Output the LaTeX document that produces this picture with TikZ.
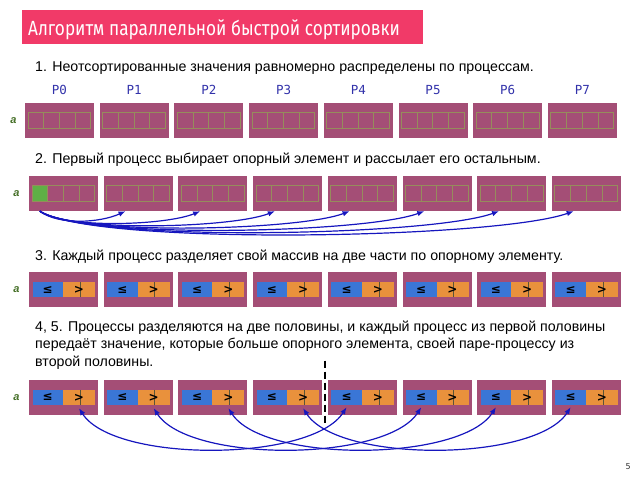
\documentclass[tikz,border=0pt]{standalone}
\usepackage{fontspec}
\setmainfont{Liberation Sans}
\newfontfamily\titlefont{Fira Sans}
\newfontfamily\monofont{DejaVu Sans Mono}
\newfontfamily\symfont{DejaVu Sans}
\usetikzlibrary{positioning,arrows.meta,calc}
\definecolor{titlered}{RGB}{241,58,104}
\definecolor{procfill}{RGB}{164,78,118}
\definecolor{cellline}{RGB}{150,140,92}
\definecolor{seedgreen}{RGB}{95,175,70}
\definecolor{lefill}{RGB}{58,118,214}
\definecolor{gtfill}{RGB}{233,145,60}
\definecolor{arrowblue}{RGB}{22,22,190}
\definecolor{plabel}{RGB}{50,50,170}
\definecolor{alabel}{RGB}{70,112,40}
\tikzset{
  proc/.style={fill=procfill, minimum width=69pt, minimum height=35pt, inner sep=0pt},
  cell/.style={draw=cellline, line width=1pt},
  seedcell/.style={fill=seedgreen, minimum width=15.7pt, minimum height=16pt, inner sep=0pt},
  lepart/.style={fill=lefill, minimum width=30.5pt, minimum height=15pt, inner sep=0pt,
    font=\symfont\bfseries\fontsize{12}{10}\selectfont},
  gtpart/.style={fill=gtfill, minimum width=32pt, minimum height=15pt, inner sep=0pt},
  gtsign/.style={inner sep=0pt, font=\symfont\bfseries\fontsize{12}{10}\selectfont},
  plab/.style={text=plabel, inner sep=0pt, font=\monofont\fontsize{12.5}{13}\selectfont},
  alab/.style={text=alabel, inner sep=0pt, font=\bfseries\itshape\fontsize{11}{12}\selectfont},
  stepline/.style={anchor=base west, inner sep=0pt, font=\fontsize{14.2}{17}\selectfont},
  sendarrow/.style={draw=arrowblue, line width=1.2pt, -{Latex[length=7pt,width=5.5pt]}},
  swaparrow/.style={draw=arrowblue, line width=1.2pt,
    {Latex[length=7pt,width=5.5pt]}-{Latex[length=7pt,width=5.5pt]}},
  divider/.style={draw=black, line width=2.6pt, dash pattern=on 7pt off 4pt},
}

\begin{document}
\begin{tikzpicture}[x=1pt,y=-1pt]
  \useasboundingbox (0,0) rectangle (638,479);

  % title
  \node[fill=titlered, minimum width=400.5pt, minimum height=34.5pt, inner sep=0pt,
    anchor=north west] (titlebar) at (22,9.5) {};
  \node[anchor=base west, inner sep=0pt, text=white] (title) at (28,35)
    {\scalebox{0.84}[1]{\titlefont\fontsize{20.5}{22}\selectfont Алгоритм параллельной быстрой сортировки}};

  % 1
  \node[stepline] (s1) at (35,71) {1. Неотсортированные значения равномерно распределены по процессам.};
  \foreach \i in {0,...,7} {
    \node[proc] (r1p\i) at ({59.5+74.7*\i},120.5) {};
    \node[plab, above=8pt of r1p\i] (lab\i) {P\i};
    \foreach \j in {0,...,3}
      \draw[cell] ($(r1p\i.center)+({-31.5+15.7*\j},-8)$) rectangle +(15.7,16);
  }
  \node[alab, left=8pt of r1p0] (a1) {a};

  % 2
  \node[stepline] (s2) at (35,163) {2. Первый процесс выбирает опорный элемент и рассылает его остальным.};
  \foreach \i in {0,...,7} {
    \node[proc] (r2p\i) at ({63.5+74.7*\i},193.5) {};
  }
  \node[seedcell] (seed) at ($(r2p0.center)+(-23.65,0)$) {};
  \foreach \i in {0,...,7} {
    \foreach \j in {0,...,3}
      \draw[cell] ($(r2p\i.center)+({-31.5+15.7*\j},-8)$) rectangle +(15.7,16);
  }
  \node[alab, left=9pt of r2p0] (a2) {a};
  \coordinate (src) at (seed |- r2p0.south);
  \foreach \k in {1,...,7} {
    \pgfmathsetmacro\d{11+74.7*\k}
    \pgfmathsetmacro\h{11+3.4*\k}
    \draw[sendarrow] (src) .. controls +({0.08*\d+12},\h) and +({-0.12*\d-15},{0.8*\h}) .. ([xshift=22pt]r2p\k.south west);
  }

  % 3
  \node[stepline] (s3) at (35,260.5) {3. Каждый процесс разделяет свой массив на две части по опорному элементу.};
  \foreach \i in {0,...,7} {
    \node[proc] (r3p\i) at ({63.5+74.7*\i},289.7) {};
    \node[lepart] (r3p\i le) at ($(r3p\i.center)+(-15.75,0)$) {≤};
    \node[gtpart] (r3p\i gt) at ($(r3p\i.center)+(15.5,0)$) {};
    \draw[cellline!60!black, line width=0.5pt] ([xshift=1pt]r3p\i gt.north) -- ([xshift=1pt]r3p\i gt.south);
    \node[gtsign] at (r3p\i gt) {>};
  }
  \node[alab, left=9pt of r3p0] (a3) {a};

  % 4, 5
  \node[stepline] (s4a) at (35,331) {4, 5. Процессы разделяются на две половины, и каждый процесс из первой половины};
  \node[stepline] (s4b) at (35,348.5) {передаёт значение, которые больше опорного элемента, своей паре-процессу из};
  \node[stepline] (s4c) at (35,366) {второй половины.};
  \foreach \i in {0,...,7} {
    \node[proc] (r4p\i) at ({63.5+74.7*\i},397.5) {};
    \node[lepart] (r4p\i le) at ($(r4p\i.center)+(-15.75,0)$) {≤};
    \node[gtpart] (r4p\i gt) at ($(r4p\i.center)+(15.5,0)$) {};
    \draw[cellline!60!black, line width=0.5pt] ([xshift=1pt]r4p\i gt.north) -- ([xshift=1pt]r4p\i gt.south);
    \node[gtsign] at (r4p\i gt) {>};
  }
  \node[alab, left=9pt of r4p0] (a4) {a};
  \coordinate (cut) at ($(r4p3.east)!0.5!(r4p4.west)$);
  \draw[divider] ([yshift=37pt]cut) -- ([yshift=-25pt]cut);
  \foreach \i in {0,...,3} {
    \pgfmathtruncatemacro\j{\i+4}
    \draw[swaparrow] ([yshift=-3pt]r4p\i gt.south) .. controls +(35,55) and +(-35,55) .. ([yshift=-2pt]r4p\j le.south);
  }

  \node[inner sep=0pt, text=black!80, font=\titlefont\fontsize{9}{10}\selectfont] (page) at (628,467) {5};
\end{tikzpicture}
\end{document}
